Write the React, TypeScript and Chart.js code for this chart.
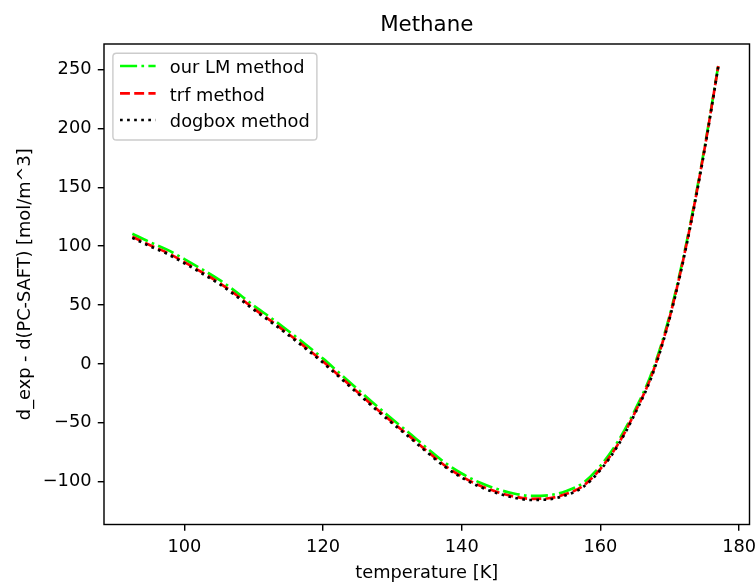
import React, { useEffect, useRef } from "react";
import { Chart, registerables } from "chart.js";

Chart.register(...registerables);

const chartTitle = "Methane";
const xAxisTitle = "temperature [K]";
const yAxisTitle = "d_exp - d(PC-SAFT) [mol/m^3]";
const seriesLabels = ["our LM method", "trf method", "dogbox method"];

const temperatures = [
  92.5, 95, 97.5, 100, 102.5, 105, 107.5, 110, 112.5, 115, 117.5, 120, 122.5,
  125, 127.5, 130, 132.5, 135, 137.5, 140, 142.5, 145, 147.5, 150, 152.5, 155,
  157.5, 160, 162.5, 165, 167.5, 170, 172.5, 175, 177,
];

const lmValues = [
  110.5, 103.5, 97, 89, 80.5, 71.5, 61, 49.5, 39, 28, 16.5, 4.5, -8.5, -21.5,
  -34.5, -47, -59, -71.5, -83.5, -93, -100.5, -106, -110, -112, -111.5, -108,
  -101, -86.5, -66, -39, -6, 41.5, 105.5, 183, 253.5,
];

const trfValues = [
  108, 101, 94.5, 86.5, 78, 69, 58.5, 47, 36.5, 25.5, 14, 2, -11, -24, -37,
  -49.5, -61.5, -74, -86, -95.5, -103, -108.5, -112.5, -114.5, -114, -110.5,
  -103.5, -89, -68.5, -41, -8, 40, 104, 182, 253,
];

const dogboxValues = [
  107, 100, 93.5, 85.5, 77, 68, 57.5, 46, 35.5, 24.5, 13, 1, -12, -25, -38,
  -50.5, -62.5, -75, -87, -96.5, -104, -109.5, -113.5, -115.5, -115, -111.5,
  -104.5, -90, -69.5, -42, -9, 39, 103, 181, 252.5,
];

const xTicks = [100, 120, 140, 160, 180];
const yTicks = [-100, -50, 0, 50, 100, 150, 200, 250];

const FONT = "DejaVu Sans";
const PT = 1.78; // px per point
const LW = 1.5 * PT;
const dashStyles = [
  [17.1, 4.3, 2.67, 4.3],
  [9.9, 4.3],
  [2.67, 4.4],
];
const colors = ["#00ff00", "#ff0000", "#000000"];

const frameLegendPlugin = {
  id: "frameLegend",
  afterDraw(chart: any) {
    const { ctx, chartArea } = chart;
    const { left, top, right, bottom } = chartArea;
    ctx.save();
    ctx.strokeStyle = "#000";
    ctx.lineWidth = 0.8 * PT;
    ctx.setLineDash([]);
    ctx.strokeRect(left, top, right - left, bottom - top);

    // title centred over the axes
    ctx.fillStyle = "#000";
    ctx.font = `${12 * PT}px "${FONT}"`;
    ctx.textAlign = "center";
    ctx.textBaseline = "alphabetic";
    ctx.fillText(chartTitle, (left + right) / 2, top - 13.3);

    // legend
    const fs = 10 * PT;
    ctx.font = `${fs}px "${FONT}"`;
    let maxW = 0;
    seriesLabels.forEach((l) => {
      maxW = Math.max(maxW, ctx.measureText(l).width);
    });
    const bx = left + 0.5 * fs;
    const by = top + 9.3;
    const bw = 0.4 * fs + 2 * fs + 0.8 * fs + maxW + 0.4 * fs;
    const bh = 86.7;
    const r = 0.2 * fs;
    ctx.beginPath();
    ctx.moveTo(bx + r, by);
    ctx.lineTo(bx + bw - r, by);
    ctx.quadraticCurveTo(bx + bw, by, bx + bw, by + r);
    ctx.lineTo(bx + bw, by + bh - r);
    ctx.quadraticCurveTo(bx + bw, by + bh, bx + bw - r, by + bh);
    ctx.lineTo(bx + r, by + bh);
    ctx.quadraticCurveTo(bx, by + bh, bx, by + bh - r);
    ctx.lineTo(bx, by + r);
    ctx.quadraticCurveTo(bx, by, bx + r, by);
    ctx.closePath();
    ctx.fillStyle = "rgba(255,255,255,0.8)";
    ctx.fill();
    ctx.strokeStyle = "#cccccc";
    ctx.lineWidth = 1.0 * PT * 0.8;
    ctx.stroke();

    const rowYs = [top + 22, top + 49.3, top + 76];
    const hx0 = bx + 0.4 * fs;
    const hx1 = hx0 + 2 * fs;
    const tx = hx1 + 0.8 * fs;
    seriesLabels.forEach((l, i) => {
      const y = rowYs[i];
      ctx.beginPath();
      ctx.setLineDash(dashStyles[i]);
      ctx.lineDashOffset = 0;
      ctx.strokeStyle = colors[i];
      ctx.lineWidth = LW;
      ctx.lineCap = "butt";
      ctx.moveTo(hx0, y);
      ctx.lineTo(hx1, y);
      ctx.stroke();
      ctx.setLineDash([]);
      ctx.fillStyle = "#000";
      ctx.textAlign = "left";
      ctx.textBaseline = "alphabetic";
      ctx.fillText(l, tx, y + 7.2);
    });
    ctx.restore();
  },
};

const fmt = (v: number) => (v < 0 ? "\u2212" + Math.abs(v) : String(v));

export default function App() {
  const ref = useRef<HTMLCanvasElement | null>(null);

  useEffect(() => {
    if (!ref.current) return;
    Chart.defaults.color = "#000";
    Chart.defaults.font.family = FONT;
    const seriesValues = [lmValues, trfValues, dogboxValues];
    const chart = new Chart(ref.current, {
      type: "line",
      data: {
        datasets: seriesValues.map((vals, i) => ({
          label: seriesLabels[i],
          data: temperatures.map((t, j) => ({ x: t, y: vals[j] })),
          borderColor: colors[i],
          backgroundColor: colors[i],
          borderWidth: LW,
          borderDash: dashStyles[i],
          borderCapStyle: "butt",
          borderJoinStyle: "round",
          pointRadius: 0,
          pointHoverRadius: 0,
          fill: false,
          cubicInterpolationMode: "monotone",
          order: 3 - i,
        })),
      },
      options: {
        responsive: false,
        animation: false,
        devicePixelRatio: 1,
        events: [],
        layout: { padding: { left: 0, right: 5.5, top: 44, bottom: 0 } },
        plugins: {
          legend: { display: false },
          tooltip: { enabled: false },
          title: { display: false },
        },
        scales: {
          x: {
            type: "linear",
            min: 88.41,
            max: 181.5,
            afterBuildTicks: (s: any) => {
              s.ticks = xTicks.map((v) => ({ value: v }));
            },
            afterFit: (s: any) => {
              s.height = 57.5;
              s.paddingLeft = 0;
              s.paddingRight = 0;
            },
            ticks: {
              color: "#000",
              font: { family: FONT, size: 10 * PT },
              padding: 3.5 * PT,
              maxRotation: 0,
              autoSkip: false,
              callback: (v: any) => fmt(Number(v)),
            },
            grid: {
              drawOnChartArea: false,
              drawTicks: true,
              tickLength: 3.5 * PT,
              color: "#000",
              lineWidth: 0.8 * PT,
            },
            border: { display: false },
            title: {
              display: true,
              text: xAxisTitle,
              color: "#000",
              font: { family: FONT, size: 10 * PT, lineHeight: 1.0 },
              padding: { top: 0, bottom: 0 },
            },
          },
          y: {
            type: "linear",
            min: -136.3,
            max: 271.6,
            afterBuildTicks: (s: any) => {
              s.ticks = yTicks.map((v) => ({ value: v }));
            },
            afterFit: (s: any) => {
              s.width = 104;
              s.paddingTop = 0;
              s.paddingBottom = 0;
            },
            ticks: {
              color: "#000",
              font: { family: FONT, size: 10 * PT },
              padding: 3.5 * PT,
              autoSkip: false,
              callback: (v: any) => fmt(Number(v)),
            },
            grid: {
              drawOnChartArea: false,
              drawTicks: true,
              tickLength: 3.5 * PT,
              color: "#000",
              lineWidth: 0.8 * PT,
            },
            border: { display: false },
            title: {
              display: true,
              text: yAxisTitle,
              color: "#000",
              font: { family: FONT, size: 10 * PT },
              padding: { top: 14.8, bottom: 0 },
            },
          },
        },
      },
      plugins: [frameLegendPlugin],
    } as any);
    return () => chart.destroy();
  }, []);

  return (
    <div style={{ position: "absolute", left: 0, top: 0, width: 755, height: 582, background: "#fff" }}>
      <canvas ref={ref} width={755} height={582} style={{ display: "block" }} />
    </div>
  );
}
